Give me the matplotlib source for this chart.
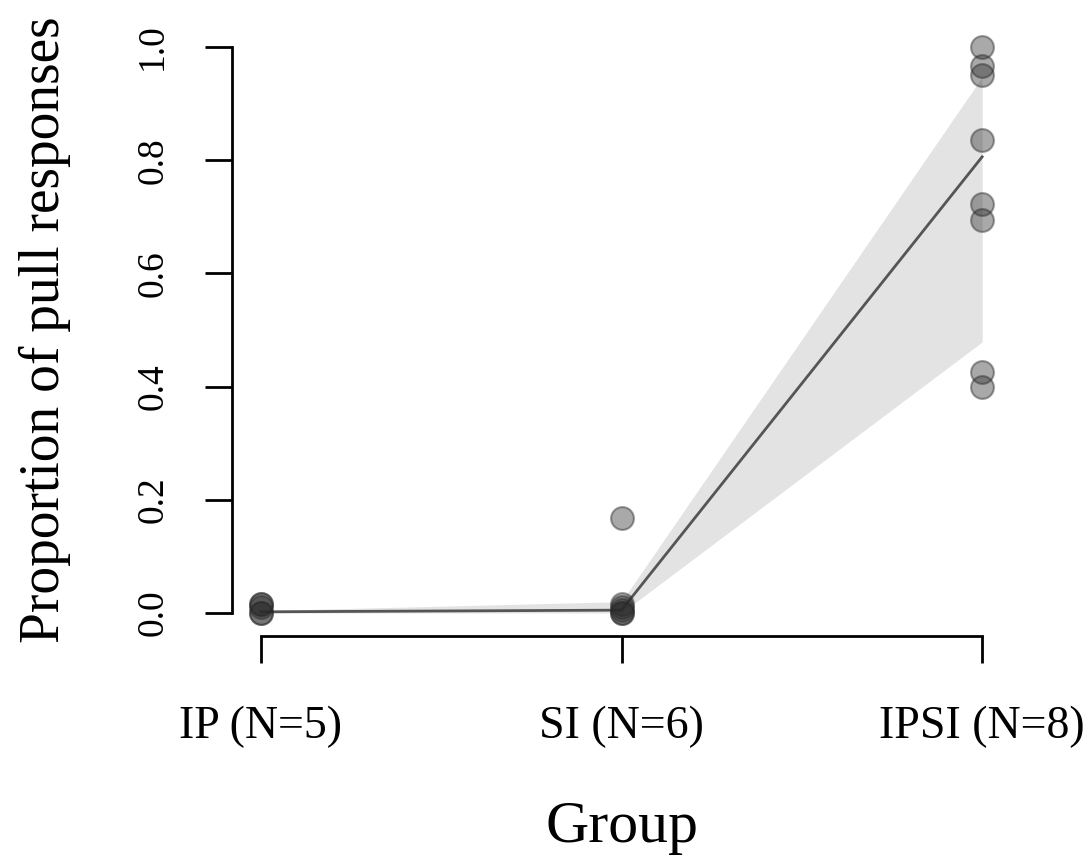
import matplotlib
matplotlib.use("Agg")
import matplotlib.pyplot as plt
import numpy as np

plt.rcParams['font.family'] = ['Liberation Serif', 'DejaVu Serif']

groups = ["IP (N=5)", "SI (N=6)", "IPSI (N=8)"]
ip_vals = [0.0, 0.0, 0.01, 0.015, 0.015]
si_vals = [0.0, 0.0, 0.005, 0.01, 0.015, 0.167]
ipsi_vals = [1.0, 0.967, 0.95, 0.835, 0.723, 0.694, 0.425, 0.40]
fit_mean = [0.002, 0.005, 0.806]
fit_lo = [0.0, 0.0, 0.479]
fit_hi = [0.004, 0.02, 0.947]
yticks = [0.0, 0.2, 0.4, 0.6, 0.8, 1.0]

W, H = 1090, 861
fig = plt.figure(figsize=(W / 100, H / 100), dpi=100)
l, r, t, b = 232, 1011, 24.4, 635.6
ax = fig.add_axes([l / W, 1 - b / H, (r - l) / W, (b - t) / H])

x = np.arange(1, len(groups) + 1)
ax.fill_between(x, fit_lo, fit_hi, color="#e3e3e3", lw=0, zorder=1)
ax.plot(x, fit_mean, color="#555555", lw=2, zorder=2)

for xi, vals in zip(x, [ip_vals, si_vals, ipsi_vals]):
    ax.scatter([xi] * len(vals), vals, s=270, facecolor=(0.16, 0.16, 0.16, 0.4),
               edgecolor=(0.16, 0.16, 0.16, 0.45), linewidths=1.5, zorder=3)

ax.set_xlim(0.92, 3.08)
ax.set_ylim(-0.04, 1.04)

for s in ["top", "right"]:
    ax.spines[s].set_visible(False)
ax.spines["left"].set_bounds(0, 1)
ax.spines["bottom"].set_bounds(1, 3)
for s in ["left", "bottom"]:
    ax.spines[s].set_linewidth(2)
    ax.spines[s].set_color("black")

ax.set_xticks(x)
ax.set_xticklabels(groups, fontsize=33)
ax.set_yticks(yticks)
ax.set_yticklabels([f"{v:.1f}" for v in yticks], fontsize=27, rotation=90, va="center")
ax.tick_params(axis="both", length=19.5, width=2, color="black")
ax.tick_params(axis="x", pad=31)
ax.tick_params(axis="y", pad=25)

ax.set_xlabel("Group", fontsize=43, va="center")
ax.xaxis.set_label_coords(0.5, 1 - (828 - t) / (b - t))
ax.set_ylabel("Proportion of pull responses", fontsize=40, va="center")
ax.yaxis.set_label_coords((45 - l) / (r - l), 0.5)

fig.savefig("out.png", dpi=100)
